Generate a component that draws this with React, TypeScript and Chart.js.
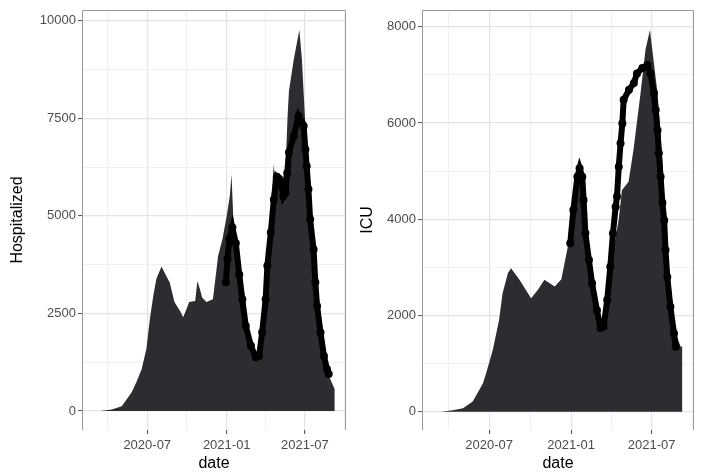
import React, { useEffect, useRef } from 'react';
import { Chart, registerables } from 'chart.js';

Chart.register(...registerables);

// ---------- axes ----------
const X_MIN = '2020-02-01';
const X_MAX = '2021-10-04';
const X_TICKS = ['2020-04-01', '2020-07-01', '2020-10-01', '2021-01-01', '2021-04-01', '2021-07-01', '2021-10-01'];
const X_MAJOR = ['2020-07-01', '2021-01-01', '2021-07-01'];

const HOSP_Y_TICKS = [0, 1250, 2500, 3750, 5000, 6250, 7500, 8750, 10000];
const HOSP_Y_MAJOR = [0, 2500, 5000, 7500, 10000];
const HOSP_Y_MIN = -487;
const HOSP_Y_MAX = 10274;

const ICU_Y_TICKS = [0, 1000, 2000, 3000, 4000, 5000, 6000, 7000, 8000];
const ICU_Y_MAJOR = [0, 2000, 4000, 6000, 8000];
const ICU_Y_MIN = -380;
const ICU_Y_MAX = 8347;

// ---------- Hospitalized: area ----------
const HOSP_AREA_DATES = [
  '2020-03-15', '2020-04-10', '2020-05-03', '2020-05-26', '2020-06-06', '2020-06-18', '2020-06-29',
  '2020-07-07', '2020-07-15', '2020-07-22', '2020-08-03', '2020-08-14', '2020-08-22', '2020-09-02',
  '2020-09-15', '2020-09-22', '2020-09-30', '2020-10-06', '2020-10-20', '2020-10-25', '2020-10-31',
  '2020-11-05', '2020-11-15', '2020-11-30', '2020-12-12', '2020-12-22', '2021-01-01', '2021-01-08',
  '2021-01-12', '2021-01-16', '2021-01-22', '2021-01-30', '2021-02-06', '2021-02-14', '2021-02-26',
  '2021-03-09', '2021-03-17', '2021-03-24', '2021-04-01', '2021-04-08', '2021-04-15', '2021-04-20',
  '2021-04-24', '2021-05-05', '2021-05-12', '2021-05-17', '2021-05-22', '2021-05-25', '2021-06-05',
  '2021-06-18', '2021-06-24', '2021-07-02', '2021-07-14', '2021-08-02', '2021-08-25', '2021-09-08',
];
const HOSP_AREA_VALUES = [
  0, 40, 120, 480, 740, 1070, 1590,
  2350, 2950, 3380, 3700, 3460, 3290, 2790,
  2560, 2400, 2610, 2790, 2820, 3330, 3120,
  2910, 2790, 2860, 3970, 4400, 5000, 5500,
  6060, 5000, 4300, 3400, 2750, 2100, 1600,
  1300, 1380, 2000, 2900, 4200, 5600, 6320,
  5700, 5800, 6000, 6200, 7600, 8200, 9000,
  9760, 9000, 7300, 5340, 2860, 900, 560,
];

// ---------- Hospitalized: points ----------
const HOSP_DOT_DATES = [
  '2020-12-30', '2021-01-03', '2021-01-07', '2021-01-14', '2021-01-22', '2021-01-30', '2021-02-06',
  '2021-02-14', '2021-02-26', '2021-03-09', '2021-03-17', '2021-03-24', '2021-04-01', '2021-04-05',
  '2021-04-13', '2021-04-20', '2021-04-27', '2021-05-02', '2021-05-07', '2021-05-12', '2021-05-17',
  '2021-05-21', '2021-05-25', '2021-06-05', '2021-06-16', '2021-06-23', '2021-06-28', '2021-07-02',
  '2021-07-05', '2021-07-09', '2021-07-13', '2021-07-21', '2021-07-25', '2021-07-29', '2021-08-06',
  '2021-08-14', '2021-08-21', '2021-08-25',
];
const HOSP_DOT_VALUES = [
  3300, 3900, 4400, 4700, 4300, 3500, 2860,
  2180, 1670, 1380, 1410, 2020, 2860, 3720,
  4580, 5420, 6000, 5950, 5800, 5500, 5600,
  6100, 6620, 7040, 7550, 7400, 7300, 6700,
  6270, 5680, 4910, 4140, 3300, 2690, 2010,
  1410, 1070, 950,
];

// ---------- ICU: area ----------
const ICU_AREA_DATES = [
  '2020-03-15', '2020-04-10', '2020-05-03', '2020-05-25', '2020-06-17', '2020-06-24', '2020-07-09',
  '2020-07-23', '2020-07-31', '2020-08-12', '2020-08-19', '2020-09-07', '2020-10-03', '2020-10-18',
  '2020-11-02', '2020-11-25', '2020-12-10', '2020-12-24', '2021-01-07', '2021-01-20', '2021-02-02',
  '2021-02-17', '2021-03-08', '2021-03-20', '2021-04-05', '2021-04-18', '2021-04-25', '2021-05-10',
  '2021-05-21', '2021-06-06', '2021-06-17', '2021-06-27', '2021-07-14', '2021-07-25', '2021-08-01',
  '2021-08-12', '2021-08-24', '2021-09-04', '2021-09-08',
];
const ICU_AREA_VALUES = [
  0, 30, 70, 210, 590, 800, 1280,
  1900, 2460, 2880, 2980, 2740, 2360, 2530,
  2740, 2600, 2750, 3400, 4400, 4800, 3600,
  2600, 1700, 2300, 3300, 4000, 4600, 4780,
  5440, 6620, 7520, 7930, 6620, 5230, 3710,
  2670, 1630, 1350, 1360,
];

// ---------- ICU: points ----------
const ICU_DOT_DATES = [
  '2020-12-30', '2021-01-06', '2021-01-15', '2021-01-20', '2021-01-26', '2021-01-29', '2021-02-02',
  '2021-02-10', '2021-02-17', '2021-02-28', '2021-03-08', '2021-03-15', '2021-03-23', '2021-03-30',
  '2021-04-05', '2021-04-11', '2021-04-14', '2021-04-18', '2021-04-22', '2021-04-26', '2021-04-29',
  '2021-05-11', '2021-05-22', '2021-05-29', '2021-06-10', '2021-06-21', '2021-06-28', '2021-07-06',
  '2021-07-10', '2021-07-14', '2021-07-17', '2021-07-21', '2021-07-25', '2021-07-29', '2021-08-01',
  '2021-08-05', '2021-08-12', '2021-08-20', '2021-08-24',
];
const ICU_DOT_VALUES = [
  3500, 4190, 4880, 5060, 4880, 4400, 3710,
  3150, 2670, 2110, 1740, 1770, 2320, 3010,
  3710, 4260, 4470, 5090, 5580, 5990, 6480,
  6690, 6830, 7030, 7140, 7200, 7030, 6620,
  6270, 5850, 5370, 4880, 4340, 3980, 3360,
  2800, 2180, 1630, 1350,
];

// ---------- helpers ----------
const FONT = "'Liberation Sans', Arial, sans-serif";
const AREA_COLOR = '#2b2d30';
const DAY = 86400000;

function dayNum(s: string): number {
  const [y, m, d] = s.split('-').map(Number);
  return Date.UTC(y, m - 1, d) / DAY;
}
function fmtMonth(v: number): string {
  const dt = new Date(Math.round(v) * DAY);
  const y = dt.getUTCFullYear();
  const m = dt.getUTCMonth() + 1;
  return `${y}-${m < 10 ? '0' + m : m}`;
}
function toPoints(dates: string[], values: number[]) {
  return dates.map((d, i) => ({ x: dayNum(d), y: values[i] }));
}

const borderPlugin = {
  id: 'panelBorder',
  afterDraw(chart: any) {
    const { ctx, chartArea } = chart;
    const l = Math.round(chartArea.left) + 0.5;
    const r = Math.round(chartArea.right) - 0.5;
    const t = Math.round(chartArea.top) + 0.5;
    const b = Math.round(chartArea.bottom);
    ctx.save();
    ctx.strokeStyle = '#9a9a9a';
    ctx.lineWidth = 1;
    ctx.beginPath();
    ctx.moveTo(l, b);
    ctx.lineTo(l, t);
    ctx.lineTo(r, t);
    ctx.lineTo(r, b);
    ctx.stroke();
    ctx.restore();
  },
};

interface PanelProps {
  width: number;
  height: number;
  yWidth: number;
  padRight: number;
  yTitle: string;
  yTicks: number[];
  yMajor: number[];
  yMin: number;
  yMax: number;
  areaDates: string[];
  areaValues: number[];
  dotDates: string[];
  dotValues: number[];
}

function Panel(p: PanelProps) {
  const ref = useRef<HTMLCanvasElement | null>(null);
  useEffect(() => {
    if (!ref.current) return;
    const xMajor = X_MAJOR.map(dayNum);
    const isXMajor = (v: number) => xMajor.some((m) => Math.abs(m - v) < 0.5);
    const isYMajor = (v: number) => p.yMajor.includes(v);
    const chart = new Chart(ref.current, {
      type: 'line',
      data: {
        datasets: [
          {
            data: toPoints(p.dotDates, p.dotValues),
            showLine: true,
            borderColor: '#000000',
            borderWidth: 6,
            pointRadius: 4,
            pointBackgroundColor: '#000000',
            pointBorderWidth: 0,
            fill: false,
            tension: 0,
            order: 1,
          },
          {
            data: toPoints(p.areaDates, p.areaValues),
            fill: 'origin',
            backgroundColor: AREA_COLOR,
            borderColor: 'rgba(0,0,0,0)',
            borderWidth: 0,
            pointRadius: 0,
            tension: 0,
            order: 2,
          },
        ],
      } as any,
      options: {
        animation: false,
        responsive: false,
        devicePixelRatio: 1,
        layout: { padding: { top: 10, right: p.padRight, bottom: 0, left: 0 } },
        plugins: { legend: { display: false }, tooltip: { enabled: false } },
        scales: {
          x: {
            type: 'linear',
            min: dayNum(X_MIN),
            max: dayNum(X_MAX),
            afterBuildTicks: (s: any) => {
              s.ticks = X_TICKS.map((d) => ({ value: dayNum(d) }));
            },
            afterFit: (s: any) => {
              s.height = 42;
            },
            ticks: {
              autoSkip: false,
              maxRotation: 0,
              minRotation: 0,
              padding: 4,
              color: '#4d4d4d',
              font: { family: FONT, size: 13 },
              callback: (v: any) => (isXMajor(Number(v)) ? fmtMonth(Number(v)) : ''),
            },
            grid: {
              color: (c: any) => (c.tick && isXMajor(c.tick.value) ? '#e4e4e4' : '#efefef'),
              lineWidth: (c: any) => (c.tick && isXMajor(c.tick.value) ? 1.2 : 0.9),
              tickLength: 4,
              tickWidth: 1,
              tickColor: (c: any) => (c.tick && isXMajor(c.tick.value) ? '#4d4d4d' : 'rgba(0,0,0,0)'),
            },
            border: { display: false },
            title: {
              display: true,
              text: 'date',
              color: '#000000',
              font: { family: FONT, size: 16, lineHeight: 1 },
              padding: { top: 0, bottom: 0 },
            },
          },
          y: {
            type: 'linear',
            min: p.yMin,
            max: p.yMax,
            afterBuildTicks: (s: any) => {
              s.ticks = p.yTicks.map((v) => ({ value: v }));
            },
            afterFit: (s: any) => {
              s.width = p.yWidth;
            },
            ticks: {
              padding: 2,
              color: '#4d4d4d',
              font: { family: FONT, size: 13 },
              callback: (v: any) => (isYMajor(Number(v)) ? String(v) : ''),
            },
            grid: {
              color: (c: any) => (c.tick && isYMajor(c.tick.value) ? '#e4e4e4' : '#efefef'),
              lineWidth: (c: any) => (c.tick && isYMajor(c.tick.value) ? 1.2 : 0.9),
              tickLength: 4,
              tickWidth: 1,
              tickColor: (c: any) => (c.tick && isYMajor(c.tick.value) ? '#4d4d4d' : 'rgba(0,0,0,0)'),
            },
            border: { display: false },
            title: {
              display: true,
              text: p.yTitle,
              color: '#000000',
              font: { family: FONT, size: 16, lineHeight: 1 },
              padding: { top: 10, bottom: 10 },
            },
          },
        },
      } as any,
      plugins: [borderPlugin],
    });
    return () => chart.destroy();
  }, []);
  return <canvas ref={ref} width={p.width} height={p.height} style={{ display: 'block', width: p.width, height: p.height }} />;
}

export default function App() {
  return (
    <div style={{ position: 'absolute', left: 0, top: 0, width: 701, height: 472, background: '#ffffff', display: 'flex' }}>
      <Panel
        width={350}
        height={472}
        yWidth={82}
        padRight={3}
        yTitle="Hospitalized"
        yTicks={HOSP_Y_TICKS}
        yMajor={HOSP_Y_MAJOR}
        yMin={HOSP_Y_MIN}
        yMax={HOSP_Y_MAX}
        areaDates={HOSP_AREA_DATES}
        areaValues={HOSP_AREA_VALUES}
        dotDates={HOSP_DOT_DATES}
        dotValues={HOSP_DOT_VALUES}
      />
      <Panel
        width={351}
        height={472}
        yWidth={72}
        padRight={7}
        yTitle="ICU"
        yTicks={ICU_Y_TICKS}
        yMajor={ICU_Y_MAJOR}
        yMin={ICU_Y_MIN}
        yMax={ICU_Y_MAX}
        areaDates={ICU_AREA_DATES}
        areaValues={ICU_AREA_VALUES}
        dotDates={ICU_DOT_DATES}
        dotValues={ICU_DOT_VALUES}
      />
    </div>
  );
}
